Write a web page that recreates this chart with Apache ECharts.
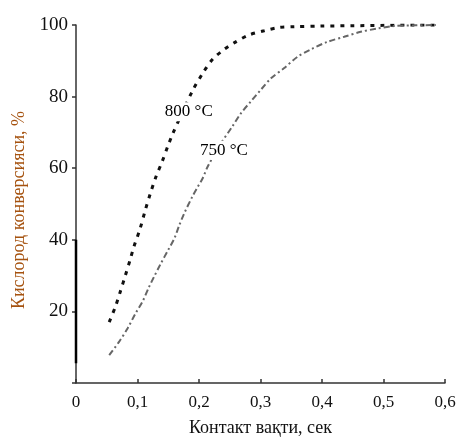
<!DOCTYPE html>
<html>
<head>
<meta charset="utf-8">
<script src="https://cdn.jsdelivr.net/npm/echarts@6/dist/echarts.min.js"></script>
<style>
  html, body { margin: 0; padding: 0; background: #fff; }
  #chart { width: 456px; height: 437px; }
</style>
</head>
<body>
<div id="chart"></div>
<script>
// данные
var xTicks = [0, 0.1, 0.2, 0.3, 0.4, 0.5, 0.6];
var yTicks = [0, 20, 40, 60, 80, 100];

var x800 = [0.054, 0.064, 0.072, 0.080, 0.088, 0.094, 0.104, 0.113, 0.121, 0.130, 0.140, 0.149, 0.157, 0.174, 0.190, 0.206, 0.222, 0.241, 0.257, 0.281, 0.306, 0.330, 0.354, 0.40, 0.45, 0.50, 0.55, 0.585];
var y800 = [17, 21.3, 25.5, 29.9, 34.4, 38, 43, 48.5, 53, 57.6, 61.8, 66, 69.5, 76, 81.8, 86.5, 90.4, 93.2, 95, 97.2, 98.4, 99.3, 99.5, 99.7, 99.8, 99.9, 100, 100];

var x750 = [0.054, 0.070, 0.084, 0.097, 0.108, 0.119, 0.127, 0.138, 0.150, 0.160, 0.168, 0.176, 0.189, 0.198, 0.206, 0.214, 0.234, 0.254, 0.268, 0.284, 0.300, 0.317, 0.338, 0.360, 0.382, 0.409, 0.436, 0.463, 0.490, 0.517, 0.55, 0.585];
var y750 = [7.8, 11.5, 15.3, 19.5, 22.7, 26.9, 29.7, 33.4, 37.2, 40.4, 44.1, 47.4, 52, 54.8, 57.2, 60.4, 66.5, 71.6, 75.3, 78.6, 81.8, 85.1, 87.9, 91.1, 93.2, 95.3, 96.7, 98.1, 99, 99.7, 99.9, 100];

// подписи кривых (левый край, середина по высоте)
var labels = [
  { text: '800 °C', x: 0.142, y: 75.8 },
  { text: '750 °C', x: 0.199, y: 65 }
];

// жирный кусок оси Y на исходном рисунке
var axisMarkY = [5.5, 40];

function pairs(xs, ys) {
  return xs.map(function (x, i) { return [x, ys[i]]; });
}

var font = '"Liberation Serif", "Times New Roman", serif';
var chart = echarts.init(document.getElementById('chart'));

var option = {
  backgroundColor: '#fff',
  animation: false,
  grid: { left: 76, right: 11, top: 25, bottom: 54, containLabel: false, outerBoundsMode: 'none' },
  xAxis: {
    type: 'value',
    min: 0, max: 0.6, interval: 0.1,
    name: 'Контакт вақти, сек',
    nameLocation: 'middle',
    nameGap: 36,
    nameTextStyle: { fontFamily: font, fontSize: 18, color: '#111' },
    axisLine: { lineStyle: { color: '#333', width: 1.5 } },
    axisTick: { inside: true, length: 4, lineStyle: { color: '#333', width: 1.5 } },
    axisLabel: {
      fontFamily: font, fontSize: 17, color: '#111', margin: 11,
      formatter: function (v) { return String(+v.toFixed(1)).replace('.', ','); }
    },
    splitLine: { show: false }
  },
  yAxis: {
    type: 'value',
    min: 0, max: 100, interval: 20,
    name: 'Кислород конверсияси, %',
    nameLocation: 'middle',
    nameGap: 47,
    nameTextStyle: { fontFamily: font, fontSize: 18, color: '#a5520f', padding: [0, 12, 0, 0] },
    axisLine: { show: true, lineStyle: { color: '#333', width: 1.5 } },
    axisTick: { show: true, length: 4, lineStyle: { color: '#333', width: 1.5 } },
    axisLabel: {
      fontFamily: font, fontSize: 19, color: '#111', margin: 8,
      formatter: function (v) { return v === 0 ? '' : v; }
    },
    splitLine: { show: false }
  },
  series: [
    {
      name: '800 °C',
      type: 'line',
      smooth: 0.3,
      symbol: 'none',
      data: pairs(x800, y800),
      lineStyle: { color: '#111', width: 3, type: [4, 6] }
    },
    {
      name: '750 °C',
      type: 'line',
      smooth: 0.3,
      symbol: 'none',
      data: pairs(x750, y750),
      lineStyle: { color: '#666', width: 2, type: [6, 3, 2, 3] }
    },
    {
      type: 'line',
      symbol: 'none',
      silent: true,
      data: axisMarkY.map(function (y) { return [0, y]; }),
      lineStyle: { color: '#000', width: 2.5 }
    },
    {
      type: 'scatter',
      symbolSize: 1,
      itemStyle: { opacity: 0 },
      silent: true,
      z: 10,
      data: labels.map(function (l) { return { value: [l.x, l.y], name: l.text }; }),
      label: {
        show: true,
        position: 'right',
        distance: 0,
        formatter: function (p) { return p.name; },
        fontFamily: font, fontSize: 17, color: '#000', opacity: 1,
        backgroundColor: '#fff',
        padding: [1, 1]
      }
    }
  ]
};

chart.setOption(option);
</script>
</body>
</html>
